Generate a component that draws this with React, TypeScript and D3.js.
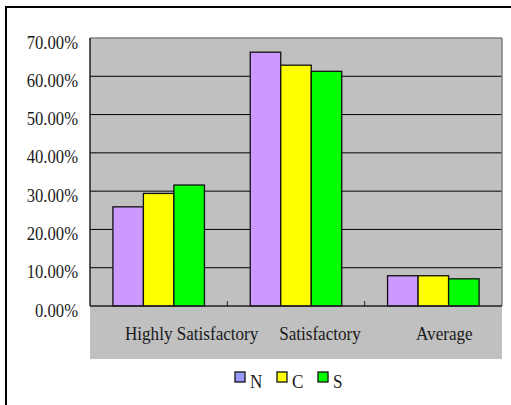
import React from "react";
import * as d3 from "d3";

const categories = ["Highly Satisfactory", "Satisfactory", "Average"];
const seriesNames = ["N", "C", "S"];
const valuesN = [0.259, 0.663, 0.079];
const valuesC = [0.294, 0.629, 0.079];
const valuesS = [0.316, 0.613, 0.071];
const yTicks = [0, 0.1, 0.2, 0.3, 0.4, 0.5, 0.6, 0.7];

const W = 511;
const H = 405;
const plot = { left: 90, right: 502, top: 38, bottom: 306, grayBottom: 359 };
const barColors = ["#CC99FF", "#FFFF00", "#00FF00"];
const legendColors = ["#9999FF", "#FFFF00", "#00FF00"];
const labelDx = [33, 24, 11];
const FONT = "'Liberation Serif', 'Times New Roman', serif";
const SX = 0.9;

function T(props: { x: number; y: number; size: number; anchor?: string; children: React.ReactNode }) {
  return (
    <text
      transform={`translate(${props.x},${props.y}) scale(${SX},1)`}
      textAnchor={props.anchor || "start"}
      fontSize={props.size}
      fill="#1a1a1a"
    >
      {props.children}
    </text>
  );
}

export default function App() {
  const seriesValues = [valuesN, valuesC, valuesS];
  const x0 = d3.scaleBand<string>().domain(categories).range([plot.left, plot.right]).paddingInner(0).paddingOuter(0);
  const x1 = d3.scaleBand<string>().domain(seriesNames).range([0, x0.bandwidth()]).paddingInner(0).paddingOuter(0.75);
  const y = d3.scaleLinear().domain([0, 0.7]).range([plot.bottom, plot.top]);
  const fmt = (v: number) => (v * 100).toFixed(2) + "%";

  const legendX = [235, 277, 318];

  return (
    <svg width={W} height={H} style={{ position: "absolute", left: 0, top: 0, display: "block" }} fontFamily={FONT}>
      <rect x={0} y={0} width={W} height={H} fill="#fff" />
      {/* outer frame */}
      <rect x={6} y={7} width={W + 10} height={H + 10} fill="none" stroke="#000" strokeWidth={2} />
      {/* gray plot area incl. label band */}
      <rect x={plot.left} y={plot.top} width={plot.right - plot.left} height={plot.grayBottom - plot.top} fill="#C0C0C0" />
      {/* gridlines */}
      {yTicks.filter((t) => t > 0 && t < 0.7).map((t) => (
        <line key={t} x1={plot.left} x2={plot.right} y1={y(t)} y2={y(t)} stroke="#000" strokeWidth={1} />
      ))}
      {/* plot border top/right */}
      <line x1={plot.left} x2={plot.right} y1={plot.top} y2={plot.top} stroke="#808080" strokeWidth={1.5} />
      <line x1={plot.right} x2={plot.right} y1={plot.top} y2={plot.bottom} stroke="#808080" strokeWidth={1.5} />
      {/* bars */}
      {categories.map((c, ci) => (
        <g key={c} transform={`translate(${x0(c)},0)`}>
          {seriesNames.map((s, si) => {
            const v = seriesValues[si][ci];
            return (
              <rect
                key={s}
                x={x1(s)}
                y={y(v)}
                width={x1.bandwidth()}
                height={y(0) - y(v)}
                fill={barColors[si]}
                stroke="#111"
                strokeWidth={1.3}
              />
            );
          })}
        </g>
      ))}
      {/* axes */}
      <line x1={plot.left} x2={plot.left} y1={plot.top} y2={plot.bottom} stroke="#222" strokeWidth={1.5} />
      <line x1={plot.left} x2={plot.right} y1={plot.bottom} y2={plot.bottom} stroke="#222" strokeWidth={1.5} />
      {categories.slice(1).map((c) => (
        <line key={c} x1={x0(c)} x2={x0(c)} y1={plot.bottom - 5} y2={plot.bottom} stroke="#222" strokeWidth={1} />
      ))}
      {/* y labels */}
      {yTicks.map((t) => (
        <T key={t} x={78} y={y(t) + 10.5} size={18.5} anchor="end">
          {fmt(t)}
        </T>
      ))}
      {/* x labels */}
      {categories.map((c, ci) => (
        <T key={c} x={(x0(c) as number) + x0.bandwidth() / 2 + labelDx[ci]} y={340} size={19} anchor="middle">
          {c}
        </T>
      ))}
      {/* legend */}
      {seriesNames.map((s, si) => (
        <g key={s}>
          <rect x={legendX[si]} y={372} width={10} height={10} fill={legendColors[si]} stroke="#111" strokeWidth={1.3} />
          <T x={legendX[si] + 15} y={388} size={19}>
            {s}
          </T>
        </g>
      ))}
    </svg>
  );
}
